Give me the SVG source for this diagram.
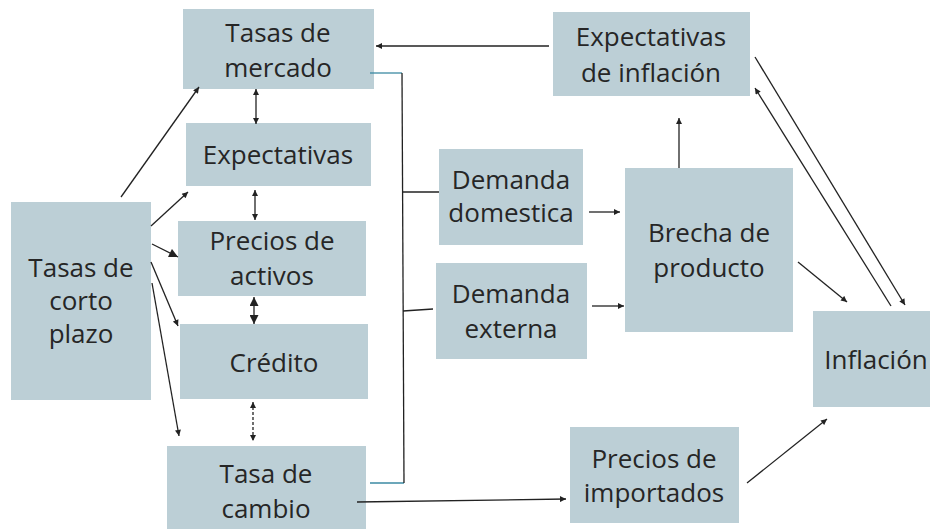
<svg xmlns="http://www.w3.org/2000/svg" width="930" height="529" viewBox="0 0 930 529">
<defs>
<style>
.box{fill:#bccfd6}
.t{font-family:"Open Sans","Noto Sans",sans-serif;font-size:26px;fill:#262626;text-anchor:middle}
.c{stroke:#222;stroke-width:1.3;fill:none}
.b{stroke:#3b8aa3;stroke-width:1.3;fill:none}
</style>
<marker id="a" viewBox="0 0 10 10" refX="10" refY="5" markerWidth="7" markerHeight="6" markerUnits="userSpaceOnUse" orient="auto-start-reverse"><path d="M0,0 L10,5 L0,10 z" fill="#222"/></marker>
<marker id="A" viewBox="0 0 10 10" refX="10" refY="5" markerWidth="10" markerHeight="9" markerUnits="userSpaceOnUse" orient="auto-start-reverse"><path d="M0,0 L10,5 L0,10 z" fill="#222"/></marker>
</defs>
<rect width="930" height="529" fill="#fff"/>
<g id="tasas-mercado"><rect class="box" x="183" y="9" width="191" height="80"/><text class="t" x="278" y="42">Tasas de</text><text class="t" x="278" y="77">mercado</text></g>
<g id="expectativas"><rect class="box" x="186" y="123" width="185" height="63"/><text class="t" x="278" y="164">Expectativas</text></g>
<g id="precios-activos"><rect class="box" x="178" y="221" width="188" height="75"/><text class="t" x="272" y="250">Precios de</text><text class="t" x="272" y="285">activos</text></g>
<g id="credito"><rect class="box" x="180" y="324" width="188" height="75"/><text class="t" x="274" y="372">Crédito</text></g>
<g id="tasa-cambio"><rect class="box" x="167" y="446" width="199" height="83"/><text class="t" x="266" y="483">Tasa de</text><text class="t" x="266" y="518">cambio</text></g>
<g id="tasas-corto"><rect class="box" x="11" y="202" width="140" height="198"/><text class="t" x="81" y="277">Tasas de</text><text class="t" x="81" y="310">corto</text><text class="t" x="81" y="343">plazo</text></g>
<g id="expectativas-inflacion"><rect class="box" x="553" y="12" width="197" height="84"/><text class="t" x="651" y="46">Expectativas</text><text class="t" x="651" y="82">de inflación</text></g>
<g id="demanda-domestica"><rect class="box" x="439" y="149" width="144" height="96"/><text class="t" x="511" y="189">Demanda</text><text class="t" x="511" y="222">domestica</text></g>
<g id="demanda-externa"><rect class="box" x="436" y="263" width="151" height="96"/><text class="t" x="511" y="303">Demanda</text><text class="t" x="511" y="338">externa</text></g>
<g id="brecha-producto"><rect class="box" x="625" y="168" width="168" height="164"/><text class="t" x="709" y="242">Brecha de</text><text class="t" x="709" y="277">producto</text></g>
<g id="inflacion"><rect class="box" x="813" y="311" width="117" height="96"/><text class="t" x="876" y="369">Inflación</text></g>
<g id="precios-importados"><rect class="box" x="570" y="427" width="169" height="96"/><text class="t" x="654" y="468">Precios de</text><text class="t" x="654" y="502">importados</text></g>
<g id="connectors">
<line class="c" x1="121" y1="197" x2="199" y2="87" marker-end="url(#a)"/>
<line class="c" x1="151" y1="226" x2="188" y2="192" marker-end="url(#a)"/>
<line class="c" x1="152" y1="244" x2="178" y2="257" marker-end="url(#A)"/>
<line class="c" x1="151" y1="262" x2="178" y2="326" marker-end="url(#a)"/>
<line class="c" x1="152" y1="283" x2="179" y2="436" marker-end="url(#a)"/>
<line class="c" x1="256" y1="89" x2="256" y2="124" marker-start="url(#a)" marker-end="url(#a)"/>
<line class="c" x1="255" y1="190" x2="255" y2="220" marker-start="url(#a)" marker-end="url(#a)"/>
<line class="c" x1="254" y1="297" x2="254" y2="324" marker-start="url(#A)" marker-end="url(#A)"/>
<line class="c" x1="253" y1="402" x2="253" y2="441" stroke-dasharray="3,2" marker-start="url(#a)" marker-end="url(#a)"/>
<polyline class="b" points="370,73 402,73"/>
<polyline class="b" points="370,483 404,483"/>
<line class="c" x1="402" y1="73" x2="404" y2="483" stroke="#444"/>
<line class="c" x1="403" y1="192" x2="439" y2="192"/>
<line class="c" x1="403" y1="311" x2="433" y2="309"/>
<line class="c" x1="549" y1="46" x2="376" y2="46" marker-end="url(#a)"/>
<line class="c" x1="589" y1="212" x2="620" y2="212" marker-end="url(#a)"/>
<line class="c" x1="592" y1="306" x2="624" y2="306" marker-end="url(#a)"/>
<line class="c" x1="679" y1="168" x2="679" y2="118" marker-end="url(#a)"/>
<line class="c" x1="755" y1="57" x2="905" y2="305" marker-end="url(#a)"/>
<line class="c" x1="891" y1="306" x2="755" y2="88" marker-end="url(#a)"/>
<line class="c" x1="798" y1="262" x2="847" y2="302" marker-end="url(#a)"/>
<line class="c" x1="747" y1="483" x2="827" y2="419" marker-end="url(#a)"/>
<line class="c" x1="357" y1="502" x2="566" y2="499" marker-end="url(#a)"/>
</g>
</svg>
